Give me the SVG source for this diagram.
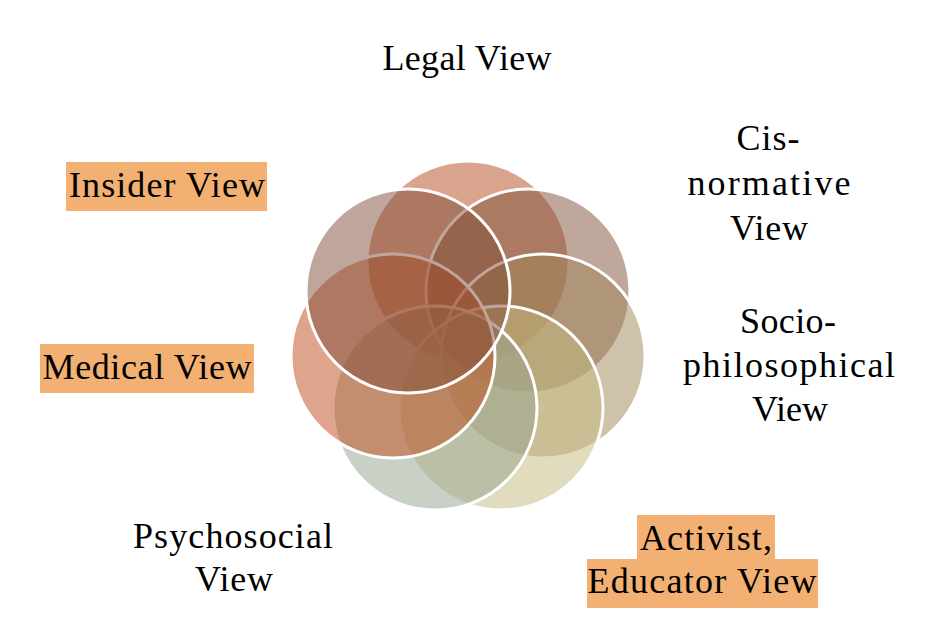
<svg xmlns="http://www.w3.org/2000/svg" width="939" height="640" viewBox="0 0 939 640">
<style>
.c{stroke:#ffffff;stroke-width:3;fill-opacity:0.5}
.t{font-family:"Liberation Serif","DejaVu Serif",serif;font-size:36px;fill:#000000;text-anchor:middle}
.hl{fill:#f2b172}
</style>
<rect width="939" height="640" fill="#ffffff"/>
<g id="circles">
<g id="legal"><circle class="c" cx="468" cy="262" r="101" fill="#b3491b"/></g>
<g id="cisnormative"><circle class="c" cx="528" cy="291" r="102" fill="#7f4f39"/></g>
<g id="sociophilosophical"><circle class="c" cx="543" cy="356" r="102" fill="#9f8557"/></g>
<g id="activist"><circle class="c" cx="501" cy="408" r="102" fill="#c5b97f"/></g>
<g id="psychosocial"><circle class="c" cx="435" cy="408" r="102" fill="#93a18d"/></g>
<g id="medical"><circle class="c" cx="393" cy="356" r="102" fill="#bd4b19"/></g>
<g id="insider"><circle class="c" cx="408" cy="291" r="102" fill="#7f4b37"/></g>
</g>
<g id="label-legal"><text class="t" x="467" y="70" textLength="169">Legal View</text></g>
<g id="label-cis">
<text class="t" x="768" y="150" textLength="63">Cis-</text>
<text class="t" x="769" y="195" textLength="163">normative</text>
<text class="t" x="769" y="240" textLength="78">View</text>
</g>
<g id="label-socio">
<text class="t" x="788" y="333" textLength="96">Socio-</text>
<text class="t" x="789" y="377" textLength="212">philosophical</text>
<text class="t" x="790" y="421" textLength="76">View</text>
</g>
<g id="label-activist">
<rect class="hl" x="637" y="515" width="138" height="44"/>
<rect class="hl" x="587" y="559" width="231" height="49"/>
<text class="t" x="706" y="550" textLength="132">Activist,</text>
<text class="t" x="702" y="593" textLength="229">Educator View</text>
</g>
<g id="label-psychosocial">
<text class="t" x="233" y="548" textLength="200">Psychosocial</text>
<text class="t" x="234" y="591" textLength="78">View</text>
</g>
<g id="label-medical">
<rect class="hl" x="40" y="344" width="214" height="49"/>
<text class="t" x="147" y="379" textLength="209">Medical View</text>
</g>
<g id="label-insider">
<rect class="hl" x="66" y="162" width="201" height="49"/>
<text class="t" x="167" y="197" textLength="196">Insider View</text>
</g>
</svg>
